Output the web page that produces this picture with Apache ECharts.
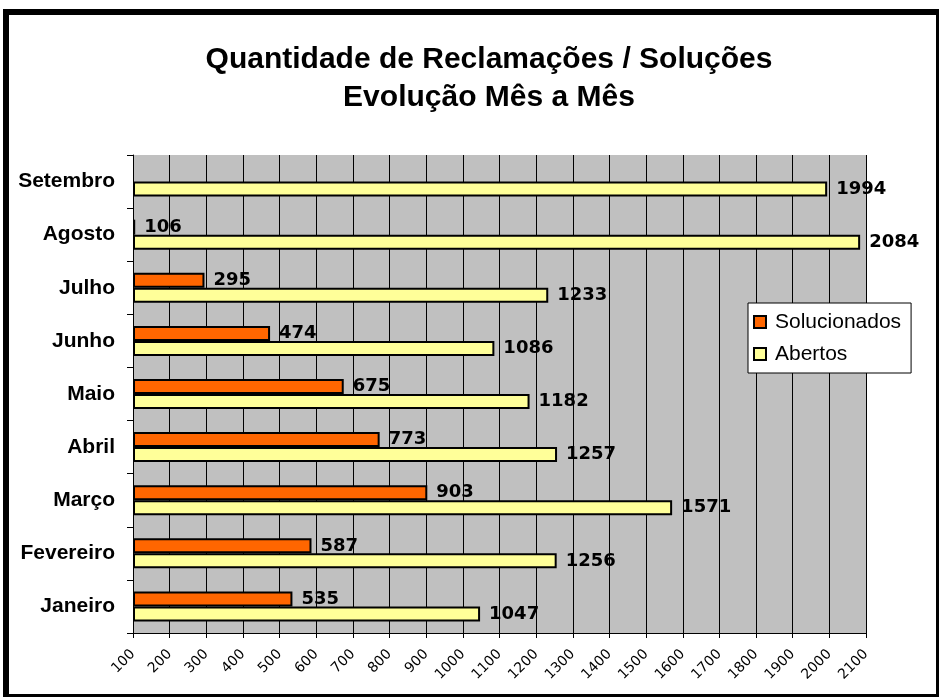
<!DOCTYPE html>
<html><head><meta charset="utf-8">
<script src="https://cdn.jsdelivr.net/npm/echarts@6/dist/echarts.min.js"></script>
<style>html,body{margin:0;padding:0;background:#fff}#c{width:939px;height:697px}</style>
</head><body><div id="c"></div>
<script>
const categories = ['Janeiro','Fevereiro','Março','Abril','Maio','Junho','Julho','Agosto','Setembro'];
const solucionados = [535, 587, 903, 773, 675, 474, 295, 106, null];
const abertos = [1047, 1256, 1571, 1257, 1182, 1086, 1233, 2084, 1994];
const seriesNames = ['Solucionados','Abertos'];
const titleLines = ['Quantidade de Reclamações / Soluções','Evolução Mês a Mês'];

const chart = echarts.init(document.getElementById('c'));
const labelStyle = {
  show: true, position: 'right', distance: 9,
  color: '#000', fontFamily: 'DejaVu Sans', fontWeight: 'bold', fontSize: 18
};
chart.setOption({
  animation: false,
  title: {
    text: titleLines.join('\n'), left: 484, textAlign: 'center', top: 36,
    textStyle: { fontFamily: 'Liberation Sans', fontWeight: 'bold', fontSize: 30, lineHeight: 38, color: '#000' }
  },
  graphic: [{
    type: 'rect', left: 3, top: 9, shape: { width: 933, height: 685 },
    style: { fill: 'none', stroke: '#000', lineWidth: 6 }, z: 100
  }],
  legend: {
    data: seriesNames, orient: 'vertical', left: 748, top: 303,
    backgroundColor: '#fff', borderColor: '#000', borderWidth: 1,
    padding: [8, 10, 8, 5], itemGap: 10, itemWidth: 12, itemHeight: 12,
    icon: 'rect',
    textStyle: { fontFamily: 'Liberation Sans', fontSize: 21, lineHeight: 22, color: '#000', padding: [0, 0, 0, 4] }
  },
  grid: { left: 133, right: 73, top: 155, bottom: 64, show: true, backgroundColor: '#C0C0C0', borderWidth: 0 },
  xAxis: {
    type: 'value', min: 100, max: 2100, interval: 100, startValue: 100,
    axisLine: { show: true, lineStyle: { color: '#000', width: 1 } },
    axisTick: { show: true, length: 5, lineStyle: { color: '#000' } },
    splitLine: { show: true, lineStyle: { color: '#000', width: 1 } },
    axisLabel: { rotate: 45, margin: 19, fontFamily: 'DejaVu Sans', fontSize: 14, color: '#000',
      formatter: v => String(v) }
  },
  yAxis: {
    type: 'category', data: categories,
    axisLine: { show: true, lineStyle: { color: '#000', width: 1 } },
    axisTick: { show: true, length: 6, lineStyle: { color: '#000' } },
    axisLabel: { margin: 18, fontFamily: 'Liberation Sans', fontWeight: 'bold', fontSize: 21, color: '#000' }
  },
  series: [
    { name: seriesNames[0], type: 'bar', data: solucionados, barWidth: 15, barGap: '0%',
      itemStyle: { color: '#FF6600', borderColor: '#000', borderWidth: 2 }, label: labelStyle },
    { name: seriesNames[1], type: 'bar', data: abertos, barWidth: 15, barGap: '0%',
      itemStyle: { color: '#FFFF99', borderColor: '#000', borderWidth: 2 }, label: labelStyle }
  ]
});
</script></body></html>
